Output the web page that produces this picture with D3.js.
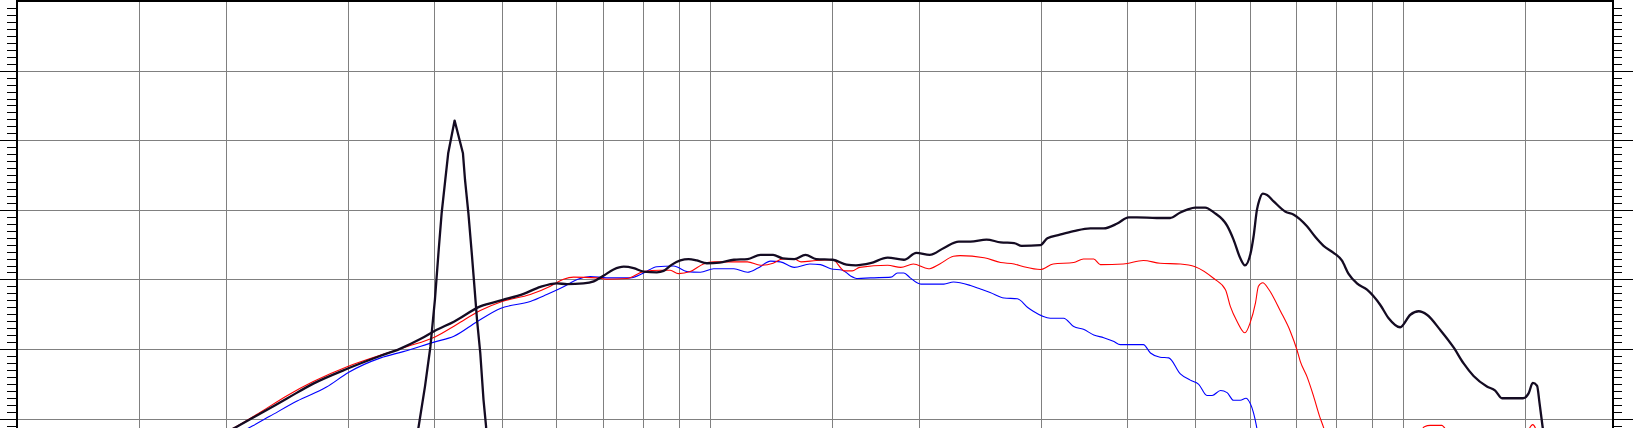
<!DOCTYPE html>
<html><head><meta charset="utf-8">
<script src="https://cdn.jsdelivr.net/npm/d3@7"></script>
<style>html,body{margin:0;padding:0;background:#fff;overflow:hidden}svg{display:block}</style>
</head><body><svg id="chart" width="1633" height="428"></svg>
<script>
// Grid (frequency in Hz, level in dB)
const gridFreqs = [15,20,30,40,50,60,70,80,90,100,150,200,300,400,500,600,700,800,900,1000,1500];
const levelMajor = [40,50,60,70,80,90,100];

// Black (main) curve
const blackFreq = [19.1,20.8,22.4,24.5,26.7,30.0,33.4,35.6,38.1,40.0,42.6,46.5,50.0,53.7,56.8,60.0,62.0,65.5,67.8,70.0,72.4,74.9,77.4,80.0,83.6,85.5,87.9,90.4,92.9,95.5,98.7,103,108,113,118,123,127,132,137,142,150,157,162,170,180,190,198,207,217,228,237,250,262,274,281,299,306,319,334,353,369,386,401,412,440,460,476,487,500,517,532,556,568,581,590,601,607,614,619,626,635,649,675,693,725,745,766,792,814,832,856,885,925,951,988,1022,1051,1080,1129,1180,1220,1261,1318,1355,1386,1486,1514,1535,1557,1570,1586,1600];
const blackLevel = [37.1,39.0,40.8,43.0,45.1,47.3,49.1,50.1,51.5,52.7,54.0,56.2,57.1,58.0,59.0,59.5,59.4,59.5,59.8,60.6,61.5,61.9,61.7,61.2,61.1,61.3,62.2,62.8,63.0,62.8,62.4,62.5,62.9,63.0,63.6,63.6,63.1,63.0,63.6,63.0,62.9,62.2,62.1,62.4,63.2,62.9,63.9,63.6,64.6,65.5,65.5,65.8,65.4,65.3,64.9,65.0,66.0,66.5,67.0,67.4,67.4,68.1,69.0,69.0,68.9,68.9,69.7,70.1,70.4,70.4,69.7,67.8,65.8,63.1,62.1,63.8,66.2,70.1,71.5,72.4,72.2,71.3,69.8,69.4,67.7,66.2,64.9,63.9,62.8,60.9,59.5,58.6,56.4,54.5,53.2,55.0,55.5,55.0,52.8,50.3,48.0,46.2,44.7,44.1,43.0,43.0,43.7,45.2,44.8,42.3,38.9,36.3];

// Black narrow peak
const peakFreq = [37.6,37.9,38.7,39.4,40.0,40.5,40.9,41.4,41.8,42.7,43.9,44.2,44.7,45.2,45.6,46.0,46.5,47.0,47.4,47.5];
const peakLevel = [37.1,39.0,44.7,50.4,57.2,64.3,69.6,74.4,78.2,82.9,78.2,74.4,69.6,63.9,59.1,54.3,49.5,42.8,39.0,37.1];

// Red curve
const redFreq = [19.1,20.9,22.4,24.5,26.7,30.0,33.4,36.4,40.0,43.0,46.5,50.0,54.9,58.7,61.3,63.4,68.5,70.8,75.7,80.0,84.5,87.4,89.8,93.4,97.6,101,113,118,123,127,132,135,142,150,156,160,164,180,188,196,206,214,224,229,248,262,274,283,299,312,334,345,357,365,394,421,445,476,500,532,553,562,575,590,600,611,617,626,638,664,686,701,709,725,741,756,766,778,1022,1071,1092,1135,1144,1187,1473,1535,1574];
const redLevel = [37.1,39.2,41.0,43.4,45.4,47.6,49.2,50.4,51.8,53.6,55.6,56.9,57.9,59.1,60.1,60.4,60.3,60.1,60.2,61.2,61.4,61.4,60.9,61.2,62.3,62.6,62.6,62.1,62.4,63.0,63.0,62.6,62.8,62.9,61.3,61.3,61.8,62.1,61.8,62.3,61.6,62.3,63.4,63.5,63.2,62.5,62.3,61.9,61.5,62.3,62.5,63.0,63.0,62.2,62.3,62.8,62.4,62.3,61.9,60.2,58.6,56.2,54.0,52.4,53.8,56.7,59.1,59.6,58.7,55.5,52.6,50.0,48.3,46.1,43.3,40.4,38.8,36.3,35.6,38.9,39.1,39.1,38.8,35.6,36.3,39.2,36.3];

// Blue curve
const blueFreq = [20.0,21.8,23.1,25.3,27.9,30.0,33.4,36.0,40.0,42.6,46.0,49.7,54.9,58.0,60.7,64.8,67.0,70.8,76.5,80.0,83.6,88.4,92.4,96.6,101,108,113,117,122,126,132,139,144,149,155,159,163,170,182,186,190,194,201,217,224,237,245,253,265,277,287,292,301,309,323,334,345,357,369,381,390,421,431,445,458,476,492,506,520,529,544,556,568,581,592,600,607,613,619];
const blueLevel = [37.1,39.0,40.4,42.6,44.6,46.7,48.8,49.7,51.1,51.9,54.0,55.9,56.9,57.9,58.8,60.2,60.5,60.3,60.3,61.0,61.9,62.0,61.2,61.1,61.6,61.6,61.1,61.7,62.7,62.6,61.8,62.3,62.2,61.6,61.4,60.6,60.2,60.3,60.4,61.0,61.0,60.3,59.4,59.4,59.7,59.2,58.7,58.2,57.4,57.3,56.0,55.5,54.8,54.5,54.5,53.3,52.9,52.1,51.7,51.2,50.7,50.7,49.5,48.9,48.8,46.5,45.6,45.0,43.4,43.4,44.1,43.8,42.7,42.7,43.0,42.3,40.9,39.0,36.3];

const svg = d3.select('#chart');
const W = 1633, H = 428;
const x = d3.scaleLog().domain([10, 2000]).range([17.7, 1612.4]);
const y = d3.scaleLinear().domain([40, 100]).range([419.1, 1.6]);
const crisp = v => Math.floor(v) + 0.5;

svg.append('rect').attr('width', W).attr('height', H).attr('fill', '#fff');

// grid
const grid = svg.append('g').attr('stroke', '#808080').attr('stroke-width', 1).attr('shape-rendering', 'crispEdges');
grid.selectAll('line.v').data(gridFreqs).join('line').attr('class','v')
  .attr('x1', d => crisp(x(d))).attr('x2', d => crisp(x(d))).attr('y1', 2).attr('y2', H);
grid.selectAll('line.h').data(levelMajor.filter(v => v < 100)).join('line').attr('class','h')
  .attr('y1', d => crisp(y(d))).attr('y2', d => crisp(y(d))).attr('x1', 18).attr('x2', 1612);

// ticks
const minor = d3.range(38, 100).filter(v => v % 10 !== 0);
const majorT = [30, ...levelMajor.filter(v => v < 100)];
const tk = svg.append('g').attr('stroke', '#000').attr('stroke-width', 1).attr('shape-rendering', 'crispEdges');
tk.selectAll('line.ml').data(minor).join('line').attr('class','ml')
  .attr('x1', 7).attr('x2', 16).attr('y1', d => crisp(y(d))).attr('y2', d => crisp(y(d)));
tk.selectAll('line.mr').data(minor).join('line').attr('class','mr')
  .attr('x1', 1614).attr('x2', 1622).attr('y1', d => crisp(y(d))).attr('y2', d => crisp(y(d)));
tk.selectAll('line.Ml').data(majorT).join('line').attr('class','Ml')
  .attr('x1', 0).attr('x2', 16).attr('y1', d => crisp(y(d))).attr('y2', d => crisp(y(d)));
tk.selectAll('line.Mr').data(majorT).join('line').attr('class','Mr')
  .attr('x1', 1614).attr('x2', W).attr('y1', d => crisp(y(d))).attr('y2', d => crisp(y(d)));

// curves
const smooth = d3.line().x(d => x(d[0])).y(d => y(d[1])).curve(d3.curveMonotoneX);
const straight = d3.line().x(d => x(d[0])).y(d => y(d[1]));
const zip = (a, b) => a.map((f, i) => [f, b[i]]);
const curves = svg.append('g').attr('fill', 'none').attr('stroke-linejoin', 'round');
curves.append('path').datum(zip(blueFreq, blueLevel)).attr('d', smooth)
  .attr('stroke', '#0000ff').attr('stroke-width', 1.1);
curves.append('path').datum(zip(redFreq, redLevel)).attr('d', smooth)
  .attr('stroke', '#ff0000').attr('stroke-width', 1.1);
curves.append('path').datum(zip(peakFreq, peakLevel)).attr('d', straight)
  .attr('stroke', '#140b22').attr('stroke-width', 2.3);
curves.append('path').datum(zip(blackFreq, blackLevel)).attr('d', smooth)
  .attr('stroke', '#140b22').attr('stroke-width', 2.3);

// frame
const frame = svg.append('g').attr('fill', '#000').attr('shape-rendering', 'crispEdges');
frame.append('rect').attr('x', 16).attr('y', 0).attr('width', 2).attr('height', H);
frame.append('rect').attr('x', 1612).attr('y', 0).attr('width', 2).attr('height', H);
frame.append('rect').attr('x', 16).attr('y', 0).attr('width', 1598).attr('height', 2);
</script></body></html>
